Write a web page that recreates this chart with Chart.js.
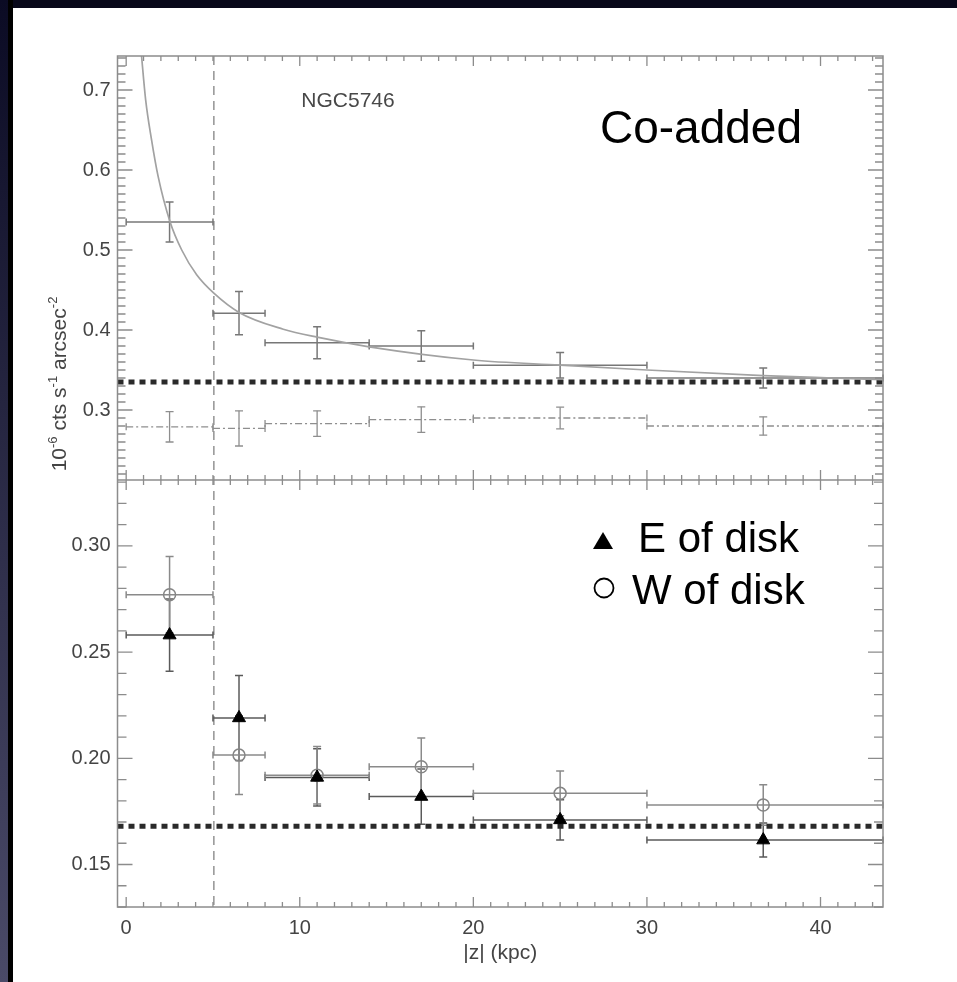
<!DOCTYPE html>
<html>
<head>
<meta charset="utf-8">
<title>NGC5746 |z| profile</title>
<script src="https://cdn.jsdelivr.net/npm/chart.js@4.4.1/dist/chart.umd.min.js"></script>
<style>
  html, body { margin: 0; padding: 0; background: #fff; }
  #wrap { position: relative; width: 957px; height: 982px; overflow: hidden; background: #fff; }
  .band-top { position: absolute; left: 0; top: 0; width: 957px; height: 8px; background: #08081a; }
  .band-left { position: absolute; left: 0; top: 0; width: 8px; height: 982px; background: linear-gradient(#0b0b24, #4a4a68); }
  .band-black { position: absolute; left: 8px; top: 0; width: 5px; height: 982px; background: #000; }
  #chartBox { position: absolute; left: 0; top: 0; width: 957px; height: 982px; }
</style>
</head>
<body>
<div id="wrap">
  <div class="band-top"></div>
  <div class="band-left"></div>
  <div class="band-black"></div>
  <div id="chartBox"><canvas id="profile"></canvas></div>
</div>
<script>
// |z| bins (kpc)
const binLow  = [0, 5, 8, 14, 20, 30];
const binHigh = [5, 8, 14, 20, 30, 43.6];
const binMid  = [2.5, 6.5, 11, 17, 25, 36.7];

// top panel: co-added profile + background profile (dash-dot)
const coadded    = [0.535, 0.421, 0.384, 0.380, 0.356, 0.340];
const coaddedErr = [0.025, 0.027, 0.020, 0.019, 0.016, 0.0125];
const bgProfile  = [0.279, 0.277, 0.283, 0.288, 0.290, 0.280];
const bgErr      = [0.019, 0.022, 0.016, 0.016, 0.0135, 0.0115];

// fitted curve
const fitZ = [0.85, 1.12, 1.46, 1.84, 2.53, 3.2, 4.06, 5.05, 6.5, 9.05, 11, 14, 20, 25, 30, 36.7, 40.7, 43.6];
const fitY = [0.751, 0.688, 0.638, 0.592, 0.535, 0.500, 0.469, 0.446, 0.422, 0.401, 0.391, 0.379, 0.3625, 0.356, 0.350, 0.343, 0.340, 0.338];

// bottom panel: E and W of disk
const eastDisk = [0.258, 0.219, 0.191, 0.182, 0.171, 0.1615];
const eastErr  = [0.017, 0.020, 0.0135, 0.013, 0.0095, 0.008];
const westDisk = [0.277, 0.2015, 0.192, 0.196, 0.1835, 0.178];
const westErr  = [0.018, 0.0185, 0.0135, 0.0135, 0.0105, 0.0095];

const bgLevelTop = 0.335;
const bgLevelBottom = 0.168;
const diskEdge = 5.05;

const zRange = [-0.5, 43.6];
const topRange = [0.2125, 0.7425];
const bottomRange = [0.13, 0.331];

const xTicks = [0, 10, 20, 30, 40];
const topTicks = [0.3, 0.4, 0.5, 0.6, 0.7];
const bottomTicks = [0.15, 0.20, 0.25, 0.30];

const FONT = "'Liberation Sans', Arial, sans-serif";
const FRAME = "#8c8c8c";

function binPoints(vals, errs) {
    return binMid.map((z, i) => ({
        x: z, y: vals[i],
        xMin: binLow[i], xMax: binHigh[i],
        yMin: vals[i] - errs[i], yMax: vals[i] + errs[i]
    }));
}

function flatLine(level) {
    return [{ x: zRange[0], y: level }, { x: zRange[1], y: level }];
}

/**
 * Error bars + disk edge line, drawn under the markers
 */
const errorBarPlugin = {
    id: "errorBars",
    beforeDatasetsDraw(chart) {
        const ctx = chart.ctx;
        const xs = chart.scales.x;
        const area = chart.chartArea;

        // vertical dashed line at the disk edge
        ctx.save();
        ctx.strokeStyle = "#9a9a9a";
        ctx.lineWidth = 1.6;
        ctx.setLineDash([9, 6]);
        const ex = xs.getPixelForValue(diskEdge);
        ctx.beginPath();
        ctx.moveTo(ex, area.top);
        ctx.lineTo(ex, area.bottom);
        ctx.stroke();
        ctx.restore();

        chart.data.datasets.forEach(ds => {
            if (!ds.errorBars) return;
            const ys = chart.scales[ds.yAxisID];
            const eb = ds.errorBars;
            ctx.save();
            ctx.strokeStyle = eb.color;
            ctx.lineWidth = eb.width;
            ds.data.forEach(p => {
                const px = xs.getPixelForValue(p.x);
                const py = ys.getPixelForValue(p.y);
                const x0 = xs.getPixelForValue(p.xMin);
                const x1 = xs.getPixelForValue(p.xMax);
                const y0 = ys.getPixelForValue(p.yMin);
                const y1 = ys.getPixelForValue(p.yMax);

                // horizontal bar
                ctx.setLineDash(eb.dash || []);
                ctx.beginPath();
                ctx.moveTo(x0, py);
                ctx.lineTo(x1, py);
                ctx.stroke();

                ctx.setLineDash(eb.vDash || []);
                ctx.beginPath();
                ctx.moveTo(px, y0);
                ctx.lineTo(px, y1);
                ctx.stroke();

                // caps
                ctx.setLineDash([]);
                ctx.beginPath();
                ctx.moveTo(x0, py - 3.5); ctx.lineTo(x0, py + 3.5);
                ctx.moveTo(x1, py - 3.5); ctx.lineTo(x1, py + 3.5);
                ctx.moveTo(px - 4, y0); ctx.lineTo(px + 4, y0);
                ctx.moveTo(px - 4, y1); ctx.lineTo(px + 4, y1);
                ctx.stroke();
            });
            ctx.restore();
        });
    }
};

/**
 * Frame with inward ticks, titles and annotation text
 */
const framePlugin = {
    id: "frame",
    afterDatasetsDraw(chart) {
        const ctx = chart.ctx;
        const xs = chart.scales.x;
        const yt = chart.scales.yTop;
        const yb = chart.scales.yBottom;
        const area = chart.chartArea;
        const mid = yt.bottom;

        ctx.save();
        ctx.strokeStyle = FRAME;
        ctx.lineWidth = 1.5;
        ctx.strokeRect(area.left, area.top, area.right - area.left, area.bottom - area.top);
        ctx.beginPath();
        ctx.moveTo(area.left, mid);
        ctx.lineTo(area.right, mid);
        ctx.stroke();

        ctx.lineWidth = 1.3;
        ctx.beginPath();
        // x ticks: top edge, middle (both ways), bottom edge
        for (let v = 0; v <= Math.floor(zRange[1]); v++) {
            const px = xs.getPixelForValue(v);
            const len = v % 10 === 0 ? 10 : 5;
            ctx.moveTo(px, area.top); ctx.lineTo(px, area.top + len);
            ctx.moveTo(px, mid - len); ctx.lineTo(px, mid + len);
            ctx.moveTo(px, area.bottom); ctx.lineTo(px, area.bottom - len);
        }
        // top panel y ticks every 0.01
        for (let k = Math.ceil(topRange[0] * 100); k <= Math.floor(topRange[1] * 100); k++) {
            const py = yt.getPixelForValue(k / 100);
            const len = k % 10 === 0 ? 15 : 8;
            ctx.moveTo(area.left, py); ctx.lineTo(area.left + len, py);
            ctx.moveTo(area.right, py); ctx.lineTo(area.right - len, py);
        }
        // bottom panel y ticks every 0.01
        for (let k = Math.ceil(bottomRange[0] * 100); k <= Math.floor(bottomRange[1] * 100); k++) {
            const py = yb.getPixelForValue(k / 100);
            const len = k % 5 === 0 ? 15 : 9;
            ctx.moveTo(area.left, py); ctx.lineTo(area.left + len, py);
            ctx.moveTo(area.right, py); ctx.lineTo(area.right - len, py);
        }
        ctx.stroke();
        ctx.restore();
    },
    afterDraw(chart) {
        const ctx = chart.ctx;
        const xs = chart.scales.x;
        ctx.save();

        // galaxy name
        ctx.fillStyle = "#484848";
        ctx.font = "21px " + FONT;
        ctx.textAlign = "center";
        ctx.textBaseline = "alphabetic";
        ctx.fillText("NGC5746", 348, 107);

        // panel label
        ctx.fillStyle = "#000";
        ctx.textAlign = "left";
        ctx.font = "46px " + FONT;
        ctx.fillText("Co-added", 600, 143);

        // legend
        ctx.font = "42px " + FONT;
        ctx.fillText("E of disk", 638, 552);
        ctx.fillText("W of disk", 632, 604);
        ctx.beginPath();
        ctx.moveTo(603, 532);
        ctx.lineTo(613, 549);
        ctx.lineTo(593, 549);
        ctx.closePath();
        ctx.fill();
        ctx.strokeStyle = "#000";
        ctx.lineWidth = 1.8;
        ctx.beginPath();
        ctx.arc(604, 588, 9.5, 0, Math.PI * 2);
        ctx.stroke();

        // x title
        ctx.fillStyle = "#444";
        ctx.font = "21px " + FONT;
        ctx.textAlign = "center";
        ctx.fillText("|z| (kpc)", (xs.left + xs.right) / 2, 959);

        // y title with superscripts, rotated
        const parts = [["10", false], ["-6", true], [" cts s", false], ["-1", true], [" arcsec", false], ["-2", true]];
        const big = "21px " + FONT, small = "13px " + FONT;
        let total = 0;
        parts.forEach(([t, sup]) => { ctx.font = sup ? small : big; total += ctx.measureText(t).width; });
        ctx.translate(66, 384);
        ctx.rotate(-Math.PI / 2);
        ctx.textAlign = "left";
        let cx = -total / 2;
        parts.forEach(([t, sup]) => {
            ctx.font = sup ? small : big;
            ctx.fillText(t, cx, sup ? -9 : 0);
            cx += ctx.measureText(t).width;
        });
        ctx.restore();
    }
};

function renderProfile() {
    const ctx = document.getElementById("profile").getContext("2d");
    const tickFont = { family: FONT, size: 20 };

    new Chart(ctx, {
        type: "scatter",
        data: {
            datasets: [
                {
                    label: "E of disk",
                    data: binPoints(eastDisk, eastErr),
                    yAxisID: "yBottom",
                    pointStyle: "triangle",
                    pointRadius: 7.5,
                    backgroundColor: "#000",
                    borderColor: "#000",
                    borderWidth: 1,
                    errorBars: { color: "#5a5a5a", width: 1.5 }
                },
                {
                    label: "W of disk",
                    data: binPoints(westDisk, westErr),
                    yAxisID: "yBottom",
                    pointStyle: "circle",
                    pointRadius: 6,
                    backgroundColor: "rgba(0,0,0,0)",
                    borderColor: "#858585",
                    borderWidth: 1.5,
                    errorBars: { color: "#8a8a8a", width: 1.5 }
                },
                {
                    label: "bottom background",
                    type: "line",
                    data: flatLine(bgLevelBottom),
                    yAxisID: "yBottom",
                    borderColor: "#2a2a2a",
                    borderWidth: 5,
                    borderDash: [6, 5],
                    pointRadius: 0
                },
                {
                    label: "Co-added",
                    data: binPoints(coadded, coaddedErr),
                    yAxisID: "yTop",
                    pointRadius: 0,
                    errorBars: { color: "#777", width: 1.5 }
                },
                {
                    label: "fit",
                    type: "line",
                    data: fitZ.map((z, i) => ({ x: z, y: fitY[i] })),
                    yAxisID: "yTop",
                    borderColor: "#a2a2a2",
                    borderWidth: 1.7,
                    pointRadius: 0,
                    cubicInterpolationMode: "monotone"
                },
                {
                    label: "background profile",
                    data: binPoints(bgProfile, bgErr),
                    yAxisID: "yTop",
                    pointRadius: 0,
                    errorBars: { color: "#8e8e8e", width: 1.3, dash: [7, 3, 2, 3] }
                },
                {
                    label: "top background",
                    type: "line",
                    data: flatLine(bgLevelTop),
                    yAxisID: "yTop",
                    borderColor: "#2a2a2a",
                    borderWidth: 5,
                    borderDash: [6, 5],
                    pointRadius: 0
                }
            ]
        },
        options: {
            responsive: true,
            maintainAspectRatio: false,
            animation: false,
            layout: { padding: { top: 56, right: 74, bottom: 0, left: 0 } },
            plugins: { legend: { display: false }, tooltip: { enabled: false } },
            scales: {
                x: {
                    type: "linear",
                    min: zRange[0],
                    max: zRange[1],
                    grid: { display: false, drawTicks: false },
                    border: { display: false },
                    afterBuildTicks: s => { s.ticks = xTicks.map(v => ({ value: v })); },
                    afterFit: s => { s.height = 75; },
                    ticks: { padding: 9, color: "#444", font: tickFont, maxRotation: 0, autoSkip: false }
                },
                yBottom: {
                    type: "linear",
                    position: "left",
                    stack: "panels",
                    stackWeight: 427,
                    min: bottomRange[0],
                    max: bottomRange[1],
                    grid: { display: false, drawTicks: false },
                    border: { display: false },
                    afterBuildTicks: s => { s.ticks = bottomTicks.map(v => ({ value: v })); },
                    afterFit: s => { s.width = 117.5; },
                    ticks: { padding: 7, color: "#444", font: tickFont, callback: v => v.toFixed(2) }
                },
                yTop: {
                    type: "linear",
                    position: "left",
                    stack: "panels",
                    stackWeight: 424,
                    min: topRange[0],
                    max: topRange[1],
                    grid: { display: false, drawTicks: false },
                    border: { display: false },
                    afterBuildTicks: s => { s.ticks = topTicks.map(v => ({ value: v })); },
                    afterFit: s => { s.width = 117.5; },
                    ticks: { padding: 7, color: "#444", font: tickFont, callback: v => v.toFixed(1) }
                }
            }
        },
        plugins: [errorBarPlugin, framePlugin]
    });
}

document.addEventListener("DOMContentLoaded", renderProfile);
</script>
</body>
</html>
